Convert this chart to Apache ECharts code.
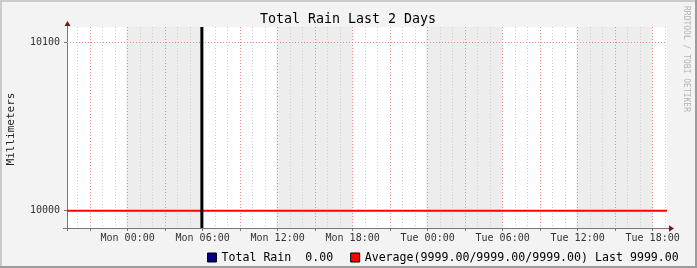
<!DOCTYPE html>
<html><head><meta charset="utf-8">
<script src="https://cdn.jsdelivr.net/npm/echarts@6/dist/echarts.min.js"></script>
<style>html,body{margin:0;padding:0;background:#f3f3f3}#c{width:697px;height:268px}</style>
</head><body><div id="c"></div>
<script>
// ---- data ----
const xStart = -4.85, xEnd = 43.15;           // hours relative to Mon 00:00
const yMin = 9989.7, yMax = 10109.35;
const xLabelHours = [0, 6, 12, 18, 24, 30, 36, 42];
const xLabels = ['Mon 00:00','Mon 06:00','Mon 12:00','Mon 18:00','Tue 00:00','Tue 06:00','Tue 12:00','Tue 18:00'];
const xMajorHours = [-3,0,3,6,9,12,15,18,21,24,27,30,33,36,39,42];
const xMinorHours = [-4,-2,-1,1,2,4,5,7,8,10,11,13,14,16,17,19,20,22,23,25,26,28,29,31,32,34,35,37,38,40,41,43];
const yTicks = [10000, 10100];
const yTickLabels = ['10000', '10100'];
const shadeStart = [-0.1, 11.9, 23.9, 35.9];
const shadeEnd = [6.0, 18.0, 30.0, 42.0];
const rainSpikeHour = [5.94];
const avgHours = [xStart, xEnd];
const avgValues = [10000, 10000];
const rainStats = ['0.00'];
const avgStats = ['9999.00', '9999.00', '9999.00'];
const avgLast = '9999.00';

const MONO = 'DejaVu Sans Mono';
const chart = echarts.init(document.getElementById('c'), null, {renderer: 'canvas'});

const shadeData = shadeStart.map((s, i) => [{xAxis: s}, {xAxis: shadeEnd[i]}]);

function vGrid(color, dash) {
  return function (params, api) {
    const cs = params.coordSys;
    const x = Math.floor(api.coord([api.value(0), yMin])[0]) + 0.5;
    return {type: 'line', shape: {x1: x, y1: cs.y, x2: x, y2: cs.y + cs.height},
      style: {stroke: color, lineWidth: 1, lineDash: dash}, silent: true};
  };
}
function hGrid(color, dash) {
  return function (params, api) {
    const cs = params.coordSys;
    const y = Math.floor(api.coord([xStart, api.value(0)])[1]) + 0.5;
    return {type: 'line', shape: {x1: cs.x, y1: y, x2: cs.x + cs.width, y2: y},
      style: {stroke: color, lineWidth: 1, lineDash: dash}, silent: true};
  };
}

const option = {
  animation: false,
  backgroundColor: '#f3f3f3',
  grid: {left: 67, top: 27, width: 600, height: 201, show: true, backgroundColor: '#ffffff', borderWidth: 0},
  xAxis: {
    type: 'value', min: xStart, max: xEnd,
    axisLine: {show: true, onZero: false, lineStyle: {color: '#777777', width: 1}},
    axisTick: {show: true, customValues: xMajorHours, length: 3, lineStyle: {color: '#777777'}},
    axisLabel: {show: true, customValues: xLabelHours, margin: 5, fontFamily: MONO, fontSize: 10, color: '#333333',
      formatter: v => xLabels[xLabelHours.indexOf(Math.round(v))] || ''},
    splitLine: {show: false}
  },
  yAxis: {
    type: 'value', min: yMin, max: yMax,
    axisLine: {show: true, onZero: false, lineStyle: {color: '#777777', width: 1}},
    axisTick: {show: true, customValues: yTicks, length: 3, lineStyle: {color: '#777777'}},
    axisLabel: {show: true, customValues: yTicks, margin: 7, fontFamily: MONO, fontSize: 10, color: '#333333',
      formatter: v => yTickLabels[yTicks.indexOf(Math.round(v))] || ''},
    splitLine: {show: false}
  },
  legend: {
    left: 202, top: 246.5, icon: 'rect', itemWidth: 9, itemHeight: 9, itemGap: 17, selectedMode: false,
    textStyle: {fontFamily: MONO, fontSize: 11.6, color: '#000000'},
    data: [
      {name: 'Total Rain', itemStyle: {color: '#000080', borderColor: '#000000', borderWidth: 1}},
      {name: 'Average', itemStyle: {color: '#ff0000', borderColor: '#000000', borderWidth: 1}}
    ],
    formatter: n => n === 'Total Rain' ? 'Total Rain  ' + rainStats[0]
                                       : 'Average(' + avgStats.join('/') + ') Last ' + avgLast
  },
  series: [
    {type: 'line', name: 'shade', data: [], z: 1, silent: true,
      markArea: {silent: true, itemStyle: {color: '#ededed'}, data: shadeData}},
    {type: 'custom', name: 'minorGrid', z: 2, silent: true, clip: true,
      renderItem: vGrid('#cfcfcf', [1, 2]), data: xMinorHours.map(h => [h])},
    {type: 'custom', name: 'majorGridX', z: 2, silent: true, clip: true,
      renderItem: vGrid('#f08c8c', [1, 2]), data: xMajorHours.map(h => [h])},
    {type: 'custom', name: 'majorGridY', z: 2, silent: true, clip: true,
      renderItem: hGrid('#f08c8c', [1, 2]), data: yTicks.map(v => [v])},
    {type: 'line', name: 'Average', z: 3, showSymbol: false, silent: true,
      lineStyle: {color: '#ff0000', width: 2}, itemStyle: {color: '#ff0000'},
      data: avgHours.map((h, i) => [h, avgValues[i]])},
    {type: 'line', name: 'Total Rain', z: 4, showSymbol: false, silent: true,
      lineStyle: {color: '#000000', width: 3}, itemStyle: {color: '#000080'},
      data: [[rainSpikeHour[0], yMin], [rainSpikeHour[0], yMax]]}
  ],
  graphic: [
    {type: 'rect', shape: {x: 0, y: 0, width: 697, height: 2}, style: {fill: '#cbcbcb'}, silent: true},
    {type: 'rect', shape: {x: 0, y: 0, width: 2, height: 268}, style: {fill: '#cbcbcb'}, silent: true},
    {type: 'rect', shape: {x: 695, y: 0, width: 2, height: 268}, style: {fill: '#9c9c9c'}, silent: true},
    {type: 'rect', shape: {x: 0, y: 266, width: 697, height: 2}, style: {fill: '#9c9c9c'}, silent: true},
    {type: 'line', shape: {x1: 67.5, y1: 25, x2: 67.5, y2: 27}, style: {stroke: '#777777', lineWidth: 1}, silent: true},
    {type: 'line', shape: {x1: 67.5, y1: 228, x2: 67.5, y2: 231}, style: {stroke: '#777777', lineWidth: 1}, silent: true},
    {type: 'line', shape: {x1: 63, y1: 228.5, x2: 67, y2: 228.5}, style: {stroke: '#777777', lineWidth: 1}, silent: true},
    {type: 'line', shape: {x1: 667, y1: 228.5, x2: 670, y2: 228.5}, style: {stroke: '#777777', lineWidth: 1}, silent: true},
    {type: 'polygon', shape: {points: [[64.5, 26], [70.5, 26], [67.5, 21]]}, style: {fill: '#7a1616'}, silent: true},
    {type: 'polygon', shape: {points: [[669, 225.3], [669, 231.7], [674, 228.5]]}, style: {fill: '#7a1616'}, silent: true},
    {type: 'text', x: 348, y: 20, silent: true,
      style: {text: 'Total Rain Last 2 Days', fontFamily: MONO, fontSize: 13.3, fill: '#000000', align: 'center', verticalAlign: 'middle'}},
    {type: 'text', x: 11, y: 129, rotation: Math.PI / 2, silent: true,
      style: {text: 'Millimeters', fontFamily: MONO, fontSize: 11, fill: '#222222', align: 'center', verticalAlign: 'middle'}},
    {type: 'text', x: 686, y: 59, rotation: -Math.PI / 2, silent: true,
      style: {text: 'RRDTOOL / TOBI OETIKER', fontFamily: MONO, fontSize: 8, fill: '#b4b4b4', align: 'center', verticalAlign: 'middle'}}
  ]
};
chart.setOption(option);
</script></body></html>
